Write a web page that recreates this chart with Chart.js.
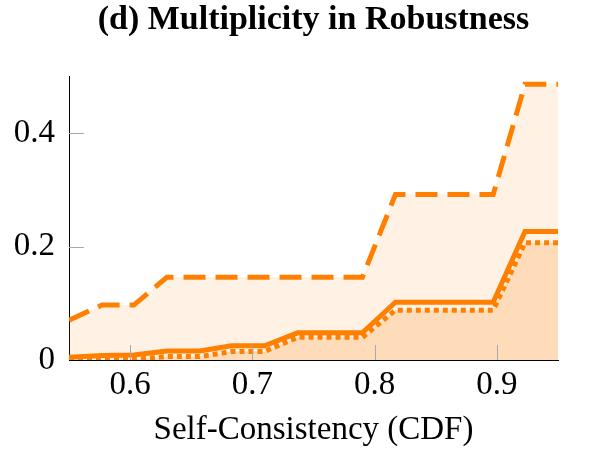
<!DOCTYPE html>
<html>
<head>
<meta charset="utf-8">
<script src="https://cdn.jsdelivr.net/npm/chart.js@4"></script>
<style>
  html, body { margin: 0; padding: 0; background: #fff; }
  #wrap { width: 590px; height: 463px; }
</style>
</head>
<body>
<div id="wrap"><canvas id="c" width="590" height="463"></canvas></div>
<script>
// self-consistency sample points (CDF)
const xs = [0.55, 0.577, 0.603, 0.63, 0.657, 0.683, 0.71, 0.737, 0.763, 0.79, 0.817, 0.843, 0.87, 0.897, 0.923, 0.95];
// upper bound (dashed)
const upper = [0.07, 0.097, 0.097, 0.146, 0.146, 0.146, 0.146, 0.146, 0.146, 0.146, 0.292, 0.292, 0.292, 0.292, 0.487, 0.487];
// mean (solid)
const mean = [0.005, 0.008, 0.009, 0.016, 0.016, 0.025, 0.025, 0.048, 0.048, 0.048, 0.102, 0.102, 0.102, 0.102, 0.227, 0.227];
// lower bound (dotted)
const lower = [0, 0, 0.001, 0.006, 0.006, 0.015, 0.015, 0.04, 0.04, 0.04, 0.088, 0.088, 0.088, 0.088, 0.207, 0.207];

const xTicks = [0.6, 0.7, 0.8, 0.9];
const yTicks = [0, 0.2, 0.4];

const orange = '#ff8000';
const serif = '"Liberation Serif", "Times New Roman", serif';
const pts = ys => xs.map((x, i) => ({ x: x, y: ys[i] }));

// pgfplots-like inward tick marks
const innerTicks = {
  id: 'innerTicks',
  afterDatasetsDraw(chart) {
    const { ctx, chartArea: a, scales: { x, y } } = chart;
    ctx.save();
    ctx.strokeStyle = '#a8a8a8';
    ctx.lineWidth = 1;
    ctx.beginPath();
    xTicks.forEach(v => {
      const px = Math.round(x.getPixelForValue(v)) + 0.5;
      ctx.moveTo(px, a.bottom); ctx.lineTo(px, a.bottom - 15);
    });
    yTicks.slice(1).forEach(v => {
      const py = Math.round(y.getPixelForValue(v)) + 0.5;
      ctx.moveTo(a.left, py); ctx.lineTo(a.left + 15, py);
    });
    ctx.stroke();
    ctx.restore();
  }
};

new Chart(document.getElementById('c'), {
  type: 'line',
  data: {
    datasets: [
      { data: pts(mean), borderColor: orange, borderWidth: 5, fill: false },
      { data: pts(lower), borderColor: orange, borderWidth: 5, borderDash: [5, 4],
        fill: 'origin', backgroundColor: 'rgba(255,128,0,0.19)' },
      { data: pts(upper), borderColor: orange, borderWidth: 5, borderDash: [22, 10],
        fill: 'origin', backgroundColor: 'rgba(255,128,0,0.11)' }
    ]
  },
  options: {
    responsive: false,
    animation: false,
    layout: { padding: { left: 0, right: 32, top: 0, bottom: 0 } },
    elements: { point: { radius: 0 }, line: { tension: 0, borderCapStyle: 'butt', borderJoinStyle: 'miter' } },
    plugins: {
      legend: { display: false },
      tooltip: { enabled: false },
      filler: { drawTime: 'beforeDatasetsDraw' },
      title: {
        display: true,
        fullSize: false,
        text: '(d) Multiplicity in Robustness',
        color: '#000',
        font: { family: serif, size: 34, weight: 'bold' },
        padding: { top: 0, bottom: 36 }
      }
    },
    scales: {
      x: {
        type: 'linear', min: 0.55, max: 0.95,
        afterBuildTicks: s => { s.ticks = xTicks.map(v => ({ value: v })); },
        afterFit: s => { s.height = 103; },
        grid: { drawOnChartArea: false, drawTicks: false },
        border: { color: '#000', width: 1 },
        ticks: { color: '#000', padding: 6, maxRotation: 0, font: { family: serif, size: 33 },
          callback: v => String(v) },
        title: { display: true, text: 'Self-Consistency (CDF)', color: '#000',
          font: { family: serif, size: 33 }, padding: { top: 0, bottom: 13 } }
      },
      y: {
        min: 0, max: 0.5,
        afterBuildTicks: s => { s.ticks = yTicks.map(v => ({ value: v })); },
        afterFit: s => { s.width = 69; },
        grid: { drawOnChartArea: false, drawTicks: false },
        border: { color: '#000', width: 1 },
        ticks: { color: '#000', padding: 14, font: { family: serif, size: 33 },
          callback: v => String(v) }
      }
    }
  },
  plugins: [innerTicks]
});
</script>
</body>
</html>
